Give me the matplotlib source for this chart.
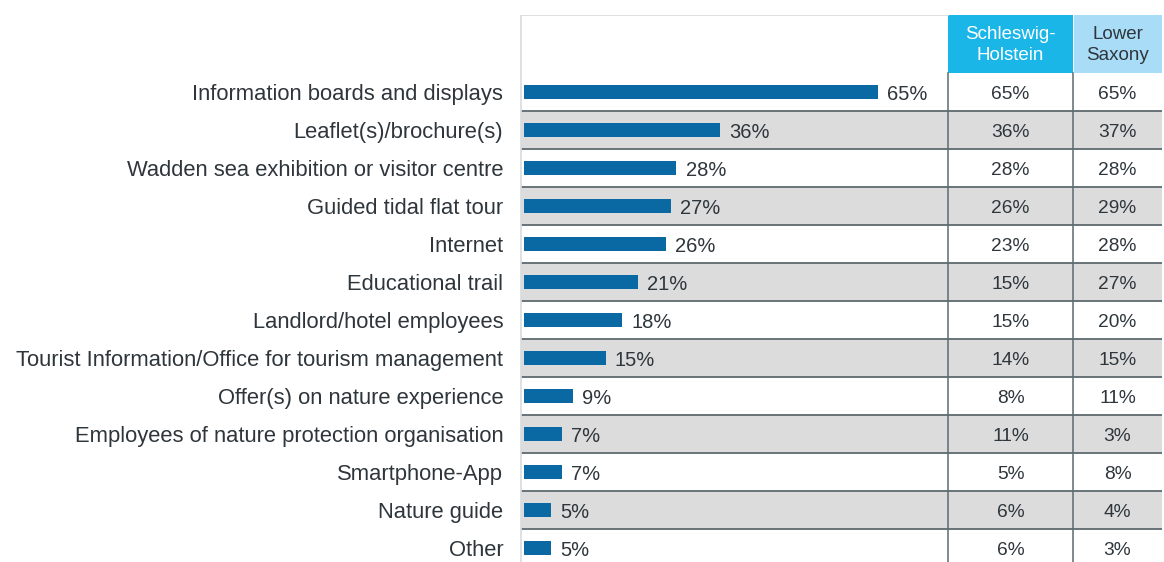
import matplotlib
matplotlib.use("Agg")
import matplotlib.pyplot as plt
from matplotlib.patches import Rectangle
import matplotlib.transforms as mtransforms

categories = [
    "Information boards and displays",
    "Leaflet(s)/brochure(s)",
    "Wadden sea exhibition or visitor centre",
    "Guided tidal flat tour",
    "Internet",
    "Educational trail",
    "Landlord/hotel employees",
    "Tourist Information/Office for tourism management",
    "Offer(s) on nature experience",
    "Employees of nature protection organisation",
    "Smartphone-App",
    "Nature guide",
    "Other",
]
total = [65, 36, 28, 27, 26, 21, 18, 15, 9, 7, 7, 5, 5]
schleswig_holstein = [65, 36, 28, 26, 23, 15, 15, 14, 8, 11, 5, 6, 6]
lower_saxony = [65, 37, 28, 29, 28, 27, 20, 15, 11, 3, 8, 4, 3]
column_headers = ["Schleswig-\nHolstein", "Lower\nSaxony"]

plt.rcParams['font.family'] = ['Liberation Sans', 'DejaVu Sans']
TXT = "#2e363b"
BAR = "#0a69a2"
GRAY = "#dcdcdc"
LINE = "#5e6a70"

W, H = 1164, 562
fig = plt.figure(figsize=(W / 100, H / 100), dpi=100)
ax_left, ax_right, ax_top = 520, 1162, 15
ax = fig.add_axes([ax_left / W, 0, (ax_right - ax_left) / W, (H - ax_top) / H])

n = len(categories)
row_h = 38.0
row0 = 92.0
y_top = (ax_top - row0) / row_h
y_bot = (H - row0) / row_h
ax.set_ylim(y_bot, y_top)

px_per_pct = (878 - 524) / 65.0
x0px = 524
ax.set_xlim((ax_left - x0px) / px_per_pct, (ax_right - x0px) / px_per_pct)

def fx(px):
    return (px - ax_left) / (ax_right - ax_left)

col_bounds = [948, 1073, ax_right]
trans = mtransforms.blended_transform_factory(ax.transAxes, ax.transData)

# row shading
for i in range(n):
    if i % 2 == 1:
        ax.add_patch(Rectangle((fx(521), i - 0.5), 1 - fx(521), 1.0, transform=trans,
                               facecolor=GRAY, edgecolor="none", zorder=0))

# horizontal lines
for i in range(n - 1):
    ax.plot([fx(521), 1], [i + 0.5, i + 0.5], transform=trans, color=LINE, lw=1.3,
            zorder=2, solid_capstyle="butt")

# vertical lines
for b in col_bounds[:2]:
    ax.plot([fx(b), fx(b)], [-0.5, y_bot], transform=trans, color=LINE, lw=1.1, zorder=2)

# left and top light borders
ax.plot([fx(521), fx(521)], [y_top, y_bot], transform=trans, color="#d8dcde", lw=1.2, zorder=2)
ax.plot([fx(521), fx(948)], [y_top + 0.01, y_top + 0.01], transform=trans, color="#d8dcde", lw=1.2, zorder=2)

# header boxes
head_colors = ["#1bb6e8", "#a9dcf7"]
head_txt = ["white", TXT]
for k in range(2):
    l, r = col_bounds[k], col_bounds[k + 1]
    ax.add_patch(Rectangle((fx(l) + (0.0015 if k == 1 else 0), y_top), fx(r) - fx(l), -0.5 - y_top,
                           transform=trans, facecolor=head_colors[k], edgecolor="none", zorder=1))
    ax.text((fx(l) + fx(r)) / 2, (y_top - 0.5) / 2 + 0.03, column_headers[k], transform=trans,
            ha="center", va="center", fontsize=13.5, color=head_txt[k], linespacing=1.3, zorder=3)

# bars
ypos = list(range(n))
bars = ax.barh(ypos, total, height=0.37, color=BAR, zorder=3)
for i, v in enumerate(total):
    ax.annotate(f"{v}%", (v, i), xytext=(6.5, 0), textcoords="offset points",
                ha="left", va="center_baseline", fontsize=14.5, color=TXT, zorder=3)

# table values
for vals, k in ((schleswig_holstein, 0), (lower_saxony, 1)):
    cx = (fx(col_bounds[k]) + fx(col_bounds[k + 1])) / 2
    for i, v in enumerate(vals):
        ax.text(cx, i + 0.02, f"{v}%", transform=trans, ha="center", va="center_baseline",
                fontsize=13.8, color=TXT, zorder=3)

ax.set_yticks(ypos)
ax.set_yticklabels(categories, fontsize=15.8, color=TXT)
ax.tick_params(axis="y", length=0, pad=12)
ax.set_xticks([])
for s in ax.spines.values():
    s.set_visible(False)

fig.savefig("out.png", dpi=100, facecolor="white")
